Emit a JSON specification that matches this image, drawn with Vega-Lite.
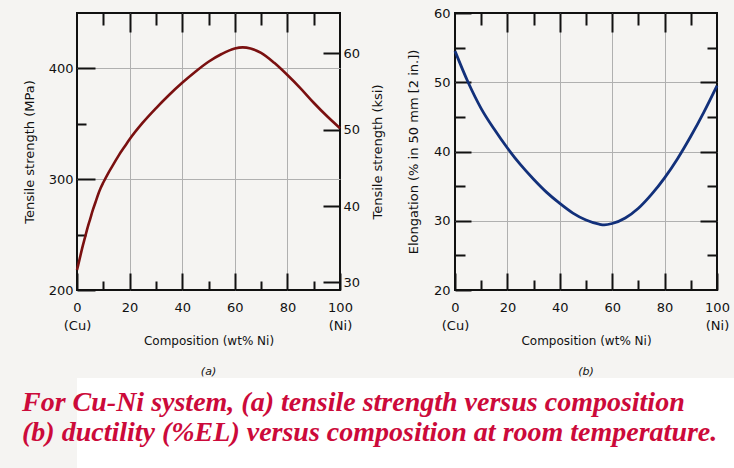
{
  "$schema": "https://vega.github.io/schema/vega-lite/v6.json",
  "background": "#f5f4f2",
  "padding": {"left": 0, "top": 6, "right": 0, "bottom": 0},
  "config": {
    "font": "DejaVu Sans",
    "view": {"stroke": "#111111", "strokeWidth": 2},
    "axis": {
      "labelFont": "DejaVu Sans", "labelFontSize": 13, "labelColor": "#111111",
      "titleFont": "DejaVu Sans", "titleFontWeight": "normal", "titleColor": "#111111",
      "tickColor": "#111111", "tickWidth": 2, "gridColor": "#b0b0b0", "gridWidth": 1, "domain": false
    }
  },
  "datasets": {
    "ts": [
      {"wt": 0, "mpa": 218}, {"wt": 1, "mpa": 228}, {"wt": 2, "mpa": 238}, {"wt": 3, "mpa": 247},
      {"wt": 4, "mpa": 256}, {"wt": 5, "mpa": 264}, {"wt": 6, "mpa": 272}, {"wt": 7, "mpa": 279},
      {"wt": 8, "mpa": 286}, {"wt": 9, "mpa": 292}, {"wt": 10, "mpa": 297}, {"wt": 12, "mpa": 306},
      {"wt": 14, "mpa": 314}, {"wt": 16, "mpa": 322}, {"wt": 18, "mpa": 329}, {"wt": 20, "mpa": 336},
      {"wt": 25, "mpa": 351}, {"wt": 30, "mpa": 364}, {"wt": 35, "mpa": 376}, {"wt": 40, "mpa": 387},
      {"wt": 45, "mpa": 397}, {"wt": 50, "mpa": 406}, {"wt": 55, "mpa": 413}, {"wt": 60, "mpa": 418},
      {"wt": 63, "mpa": 419}, {"wt": 66, "mpa": 418}, {"wt": 70, "mpa": 414}, {"wt": 75, "mpa": 405},
      {"wt": 80, "mpa": 394}, {"wt": 85, "mpa": 382}, {"wt": 90, "mpa": 369}, {"wt": 95, "mpa": 357},
      {"wt": 100, "mpa": 346}
    ],
    "el": [
      {"wt": 0, "el": 54.5}, {"wt": 5, "el": 50.0}, {"wt": 10, "el": 46.2}, {"wt": 15, "el": 43.2},
      {"wt": 20, "el": 40.5}, {"wt": 25, "el": 38.1}, {"wt": 30, "el": 36.0}, {"wt": 35, "el": 34.1},
      {"wt": 40, "el": 32.5}, {"wt": 45, "el": 31.1}, {"wt": 50, "el": 30.1}, {"wt": 55, "el": 29.5},
      {"wt": 57, "el": 29.4}, {"wt": 60, "el": 29.6}, {"wt": 65, "el": 30.4}, {"wt": 70, "el": 31.8},
      {"wt": 75, "el": 33.8}, {"wt": 80, "el": 36.2}, {"wt": 85, "el": 39.0}, {"wt": 90, "el": 42.2},
      {"wt": 95, "el": 45.7}, {"wt": 100, "el": 49.5}
    ],
    "cap": [
      {"line": 1, "text": "For Cu-Ni system, (a) tensile strength versus composition"},
      {"line": 2, "text": "(b) ductility (%EL) versus composition at room temperature."}
    ],
    "one": [{"k": 1}]
  },
  "spacing": 0,
  "columns": 1,
  "align": "none",
  "concat": [
    {
      "spacing": 20,
      "hconcat": [
        {
          "width": 263, "height": 277,
          "title": {"text": "(a)", "orient": "bottom", "fontStyle": "italic", "fontWeight": "normal", "fontSize": 11, "font": "DejaVu Sans", "color": "#111111", "offset": 20},
          "layer": [
            {
              "data": {"name": "ts"},
              "mark": {"type": "line", "color": "#7a1010", "strokeWidth": 2.6, "interpolate": "monotone"},
              "encoding": {
                "x": {"field": "wt", "type": "quantitative", "scale": {"domain": [0, 100], "nice": false},
                  "axis": {"orient": "bottom", "values": [0,20,40,60,80,100],
                    "labelExpr": "datum.value === 0 ? ['0','(Cu)'] : datum.value === 100 ? ['100','(Ni)'] : datum.label",
                    "labelFlush": false, "labelOverlap": false, "labelPadding": 28, "labelLineHeight": 18,
                    "tickSize": -17, "grid": true,
                    "gridOpacity": {"condition": {"test": "datum.value > 0 && datum.value < 100", "value": 1}, "value": 0},
                    "title": "Composition (wt% Ni)", "titleFontSize": 12, "titlePadding": 3}},
                "y": {"field": "mpa", "type": "quantitative", "scale": {"domain": [200, 450], "nice": false, "zero": false},
                  "axis": {"orient": "left", "values": [200,300,400], "labelPadding": 22, "tickSize": -18, "grid": true,
                    "gridOpacity": {"condition": {"test": "datum.value > 200", "value": 1}, "value": 0},
                    "title": "Tensile strength (MPa)", "titleFontSize": 13, "titlePadding": 12}}
              }
            },
            {
              "data": {"name": "one"},
              "mark": {"type": "point", "opacity": 0},
              "encoding": {
                "x": {"datum": 50, "type": "quantitative", "axis": null},
                "y": {"datum": 300, "type": "quantitative",
                  "axis": {"orient": "right", "values": [206.843, 275.790, 344.738, 413.685],
                    "labelExpr": "format(datum.value / 6.894757, '.0f')",
                    "labelPadding": 20, "tickSize": -17, "grid": false,
                    "title": "Tensile strength (ksi)", "titleFontSize": 13,
                    "titleAngle": 270, "titleBaseline": "top", "titlePadding": 12}}
              }
            },
            {
              "data": {"name": "one"},
              "mark": {"type": "point", "opacity": 0},
              "encoding": {
                "x": {"datum": 50, "type": "quantitative", "axis": null},
                "y": {"datum": 300, "type": "quantitative",
                  "axis": {"orient": "left", "values": [250, 350], "labels": false, "tickSize": -9, "grid": false, "title": null}}
              }
            },
            {
              "data": {"name": "one"},
              "mark": {"type": "point", "opacity": 0},
              "encoding": {
                "y": {"datum": 300, "type": "quantitative", "axis": null},
                "x": {"datum": 50, "type": "quantitative",
                  "axis": {"orient": "top", "values": [20,40,60,80], "labels": false, "tickSize": -19, "grid": false,
                    "title": " ", "titleX": -76, "titleY": 20, "titleAngle": 0, "titleAlign": "left", "titleBaseline": "top", "titleFontSize": 4}}
              }
            },
            {
              "data": {"name": "one"},
              "mark": {"type": "point", "opacity": 0},
              "encoding": {
                "y": {"datum": 300, "type": "quantitative", "axis": null},
                "x": {"datum": 50, "type": "quantitative",
                  "axis": {"orient": "top", "values": [10,30,50,70,90], "labels": false, "tickSize": -12, "grid": false, "title": null}}
              }
            },
            {
              "data": {"name": "one"},
              "mark": {"type": "point", "opacity": 0},
              "encoding": {
                "y": {"datum": 300, "type": "quantitative", "axis": null},
                "x": {"datum": 50, "type": "quantitative",
                  "axis": {"orient": "bottom", "values": [10,30,50,70,90], "labels": false, "tickSize": -9, "grid": false, "title": null}}
              }
            }
          ],
          "resolve": {"axis": {"x": "independent", "y": "independent"}}
        },
        {
          "width": 262, "height": 277,
          "title": {"text": "(b)", "orient": "bottom", "fontStyle": "italic", "fontWeight": "normal", "fontSize": 11, "font": "DejaVu Sans", "color": "#111111", "offset": 20},
          "layer": [
            {
              "data": {"name": "el"},
              "mark": {"type": "line", "color": "#12307a", "strokeWidth": 2.8, "interpolate": "monotone"},
              "encoding": {
                "x": {"field": "wt", "type": "quantitative", "scale": {"domain": [0, 100], "nice": false},
                  "axis": {"orient": "bottom", "values": [0,20,40,60,80,100],
                    "labelExpr": "datum.value === 0 ? ['0','(Cu)'] : datum.value === 100 ? ['100','(Ni)'] : datum.label",
                    "labelFlush": false, "labelOverlap": false, "labelPadding": 28, "labelLineHeight": 18,
                    "tickSize": -17, "grid": true,
                    "gridOpacity": {"condition": {"test": "datum.value > 0 && datum.value < 100", "value": 1}, "value": 0},
                    "title": "Composition (wt% Ni)", "titleFontSize": 12, "titlePadding": 3}},
                "y": {"field": "el", "type": "quantitative", "scale": {"domain": [20, 60], "nice": false, "zero": false},
                  "axis": {"orient": "left", "values": [20,30,40,50,60], "labelPadding": 21, "tickSize": -16, "grid": true,
                    "gridOpacity": {"condition": {"test": "datum.value > 20 && datum.value < 60", "value": 1}, "value": 0},
                    "title": "Elongation (% in 50 mm [2 in.])", "titleFontSize": 13, "titlePadding": 13}}
              }
            },
            {
              "data": {"name": "one"},
              "mark": {"type": "point", "opacity": 0},
              "encoding": {
                "x": {"datum": 50, "type": "quantitative", "axis": null},
                "y": {"datum": 40, "type": "quantitative",
                  "axis": {"orient": "left", "values": [25,35,45,55], "labels": false, "tickSize": -10, "grid": false, "title": null}}
              }
            },
            {
              "data": {"name": "one"},
              "mark": {"type": "point", "opacity": 0},
              "encoding": {
                "x": {"datum": 50, "type": "quantitative", "axis": null},
                "y": {"datum": 40, "type": "quantitative",
                  "axis": {"orient": "right", "values": [30,40,50], "labels": false, "tickSize": -17, "grid": false, "title": null}}
              }
            },
            {
              "data": {"name": "one"},
              "mark": {"type": "point", "opacity": 0},
              "encoding": {
                "x": {"datum": 50, "type": "quantitative", "axis": null},
                "y": {"datum": 40, "type": "quantitative",
                  "axis": {"orient": "right", "values": [25,35,45,55], "labels": false, "tickSize": -10, "grid": false, "title": null}}
              }
            },
            {
              "data": {"name": "one"},
              "mark": {"type": "point", "opacity": 0},
              "encoding": {
                "y": {"datum": 40, "type": "quantitative", "axis": null},
                "x": {"datum": 50, "type": "quantitative",
                  "axis": {"orient": "top", "values": [20,40,60,80], "labels": false, "tickSize": -19, "grid": false, "title": null}}
              }
            },
            {
              "data": {"name": "one"},
              "mark": {"type": "point", "opacity": 0},
              "encoding": {
                "y": {"datum": 40, "type": "quantitative", "axis": null},
                "x": {"datum": 50, "type": "quantitative",
                  "axis": {"orient": "top", "values": [10,30,50,70,90], "labels": false, "tickSize": -12, "grid": false, "title": null}}
              }
            },
            {
              "data": {"name": "one"},
              "mark": {"type": "point", "opacity": 0},
              "encoding": {
                "y": {"datum": 40, "type": "quantitative", "axis": null},
                "x": {"datum": 50, "type": "quantitative",
                  "axis": {"orient": "bottom", "values": [10,30,50,70,90], "labels": false, "tickSize": -10, "grid": false, "title": null}}
              }
            }
          ],
          "resolve": {"axis": {"x": "independent", "y": "independent"}}
        }
      ]
    },
    {
      "width": 657, "height": 90,
      "view": {"fill": "white", "stroke": null},
      "data": {"name": "cap"},
      "mark": {"type": "text", "align": "left", "baseline": "middle", "font": "Liberation Serif", "fontSize": 28, "fontWeight": "bold", "fontStyle": "italic", "color": "#cc0a3a", "dx": -55, "dy": -5},
      "encoding": {
        "x": {"datum": 0, "type": "quantitative", "scale": {"domain": [0, 1]}, "axis": null},
        "y": {"field": "line", "type": "ordinal", "axis": null, "scale": {"type": "band", "paddingInner": 0, "paddingOuter": 0.5}},
        "text": {"field": "text"}
      }
    }
  ]
}
